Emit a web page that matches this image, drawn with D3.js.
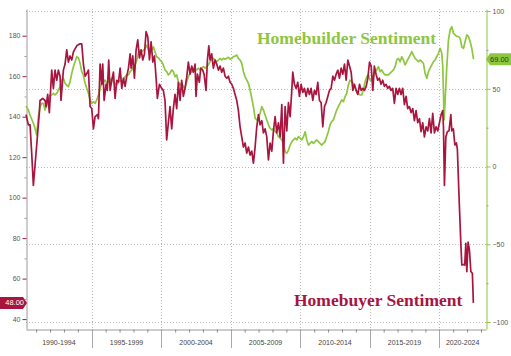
<!DOCTYPE html>
<html><head><meta charset="utf-8">
<script src="https://cdn.jsdelivr.net/npm/d3@7"></script>
<style>html,body{margin:0;padding:0;background:#fff;}svg{display:block;}</style>
</head><body>
<svg id="chart" width="511" height="356"></svg>
<script>
// ---------- data ----------
const BASE_YEAR = 1990;
const periodLabels = ["1990-1994","1995-1999","2000-2004","2005-2009","2010-2014","2015-2019","2020-2024"];
const periodStarts = [1990,1995,2000,2005,2010,2015,2020];
const leftTicks = [40,60,80,100,120,140,160,180];
const leftMinorTicks = [50,70,90,110,130,150,170];
const rightTicks = [-100,-50,0,50,100];
const rightMinorTicks = [-75,-25,25,75];
const buyerTitle = "Homebuyer Sentiment";
const builderTitle = "Homebuilder Sentiment";
const buyerLast = 48;
const builderLast = 69;
// [years since 1990, value] - Homebuyer sentiment (left axis)
const buyerSeries = [
[0.27,141],[0.44,136],[0.56,136],[0.68,122],[0.80,106],[1.04,126],[1.23,142],[1.28,148],[1.47,149],[1.64,148],
[1.71,145],[1.83,151],[1.95,142],[2.12,163],[2.24,154],[2.36,163],[2.48,158],[2.60,163],[2.72,160],[2.79,148],
[2.96,163],[3.08,166],[3.20,173],[3.32,167],[3.44,170],[3.56,168],[3.68,172],[3.92,175],[4.16,176],[4.28,176],
[4.40,166],[4.52,160],[4.69,162],[4.76,163],[4.88,145],[5.00,144],[5.12,134],[5.24,140],[5.41,141],[5.48,139],
[5.60,166],[5.72,156],[5.79,166],[5.89,148],[6.03,156],[6.12,153],[6.22,168],[6.32,153],[6.44,158],[6.56,162],
[6.68,149],[6.80,158],[6.92,157],[7.04,164],[7.16,154],[7.28,159],[7.40,155],[7.52,160],[7.64,164],[7.76,171],
[7.83,164],[7.95,170],[8.07,159],[8.19,173],[8.31,178],[8.43,169],[8.55,173],[8.67,168],[8.79,171],[8.91,182],
[9.03,179.5],[9.15,168],[9.27,177],[9.39,167],[9.51,170],[9.63,159],[9.72,149],[9.87,156],[10.03,154],[10.15,153],
[10.27,148],[10.39,128.5],[10.51,137],[10.63,145],[10.75,134],[10.87,144],[10.99,151],[11.11,144],[11.23,157],[11.35,148],
[11.47,158],[11.59,150],[11.71,154],[11.83,159.5],[11.95,167],[12.07,161],[12.19,165],[12.31,162],[12.43,166],[12.50,150],
[12.60,161],[12.74,157],[12.84,164],[12.98,163],[13.08,161],[13.22,153],[13.32,168],[13.42,175],[13.51,168],[13.63,171],
[13.75,164],[13.87,168],[13.99,166],[14.11,163],[14.23,165],[14.35,162],[14.47,164],[14.59,160],[14.71,159],[14.83,160],
[14.95,157],[15.07,156],[15.19,154],[15.31,151],[15.43,148],[15.55,143],[15.67,135],[15.79,130],[15.91,125],[16.03,127],
[16.15,122],[16.27,125],[16.39,121],[16.51,123],[16.63,117],[16.75,125],[16.87,135],[16.99,141],[17.11,136],[17.23,138],
[17.35,132],[17.47,134],[17.59,130],[17.71,118.6],[17.83,127],[17.95,123],[18.07,133],[18.19,140],[18.31,132],[18.43,137],
[18.55,130],[18.67,146],[18.79,117],[18.91,145],[19.03,133],[19.15,147],[19.27,140],[19.39,153],[19.46,162],[19.58,156],
[19.70,154],[19.82,157],[19.94,150],[20.06,156],[20.18,152],[20.30,154],[20.42,150],[20.54,154],[20.66,151],[20.78,154],
[20.90,148],[21.02,153],[21.14,151],[21.26,157],[21.38,148],[21.50,147],[21.62,135],[21.74,145],[21.86,147],[21.98,150],
[22.10,153],[22.22,154],[22.34,160],[22.46,158],[22.58,161],[22.70,163],[22.82,159],[22.94,164],[23.06,161],[23.18,166],
[23.30,158],[23.42,168],[23.54,165],[23.66,162],[23.78,153],[23.90,156],[24.02,153],[24.14,151],[24.26,156],[24.38,153],
[24.50,154],[24.62,153],[24.74,155],[24.86,159],[24.98,167],[25.10,165],[25.22,153],[25.33,165],[25.45,161],[25.57,158],
[25.69,159],[25.81,156],[25.93,158],[26.05,155],[26.17,156],[26.29,154],[26.41,155],[26.53,153],[26.65,154],[26.77,146.6],
[26.89,154],[27.01,151],[27.13,154],[27.25,151],[27.37,154],[27.49,146],[27.61,150],[27.73,144],[27.85,145],[27.97,142],
[28.09,144],[28.21,138],[28.33,143],[28.45,137],[28.57,139],[28.69,132.6],[28.81,137],[28.93,130],[29.05,135],[29.17,133],
[29.29,139],[29.41,132],[29.53,141.7],[29.65,132],[29.77,135],[29.89,133],[30.01,137],[30.13,141],[30.25,143],[30.30,135],
[30.37,106],[30.47,130],[30.58,132.6],[30.70,133],[30.83,141],[30.90,133],[31.01,134],[31.12,126],[31.23,127],[31.30,124],
[31.42,100.5],[31.55,77.4],[31.62,66.7],[31.74,67],[31.83,66.7],[31.91,77.4],[31.98,63.4],[32.07,78],[32.17,74],[32.27,63.5],
[32.38,62.6],[32.45,48]
];
// [years since 1990, value] - Homebuilder sentiment (right axis)
const builderSeries = [
[0.27,38.9],[0.44,36.3],[0.56,33.1],[0.80,27.8],[0.92,24.6],[1.04,20.3],[1.16,32],[1.28,38.3],[1.40,40.6],[1.52,40.6],
[1.64,36.3],[1.76,39.4],[1.88,42.8],[2.00,46],[2.12,46],[2.24,47.1],[2.36,46],[2.48,47.1],[2.60,49.2],[2.72,51.3],
[2.84,55.6],[2.96,56.7],[3.08,53.5],[3.20,52.4],[3.32,51.3],[3.44,54.5],[3.56,59.9],[3.68,64.2],[3.80,67.4],[3.92,70.6],
[4.04,70],[4.16,66.4],[4.28,61],[4.40,58.6],[4.52,53.5],[4.64,50.3],[4.76,47.1],[4.88,42.8],[5.00,40.6],[5.12,41.7],
[5.24,40.6],[5.36,42.8],[5.48,46],[5.60,50.3],[5.72,53.5],[5.84,54.5],[5.96,55.6],[6.08,53.5],[6.20,54.5],[6.32,55.6],
[6.44,56.7],[6.56,54.5],[6.68,53.5],[6.80,52.4],[6.92,54.5],[7.04,55.6],[7.16,54.5],[7.28,55.6],[7.40,57.8],[7.52,58.9],
[7.64,58.9],[7.76,61],[7.88,62.1],[8.00,64.2],[8.12,65.3],[8.24,68.5],[8.36,72.8],[8.48,74.9],[8.60,73.8],[8.72,74.9],
[8.84,75.9],[8.96,78.1],[9.08,74.9],[9.19,72.8],[9.31,74.9],[9.43,77],[9.55,73.8],[9.67,70.6],[9.79,70],[9.91,68.5],
[10.03,67.4],[10.15,65.3],[10.27,62.1],[10.39,61],[10.51,58.9],[10.63,60],[10.75,62.1],[10.87,61],[10.99,57.8],[11.11,58.9],
[11.23,54.5],[11.35,52.4],[11.47,53.5],[11.59,51.3],[11.71,50.3],[11.83,54.5],[11.95,57.8],[12.07,60],[12.19,61],[12.31,62.1],
[12.43,63.2],[12.55,62.1],[12.67,63.2],[12.79,62.1],[12.91,63.2],[13.03,64.2],[13.15,63.2],[13.27,64.2],[13.39,65.3],[13.51,67.4],
[13.63,68.5],[13.75,69.6],[13.87,68.5],[13.99,67.4],[14.11,68.5],[14.23,69.6],[14.35,68.5],[14.47,69.6],[14.59,69],[14.71,69.6],
[14.83,70.2],[14.95,69],[15.07,69.6],[15.19,70.6],[15.31,71],[15.43,71.7],[15.55,69.6],[15.67,68.5],[15.79,66.4],[15.91,61],
[16.03,57.8],[16.15,55.6],[16.27,53.5],[16.39,49.2],[16.63,38.5],[16.75,31.1],[16.87,30],[16.99,31.1],[17.11,34.2],[17.23,38.5],
[17.35,36.3],[17.47,33.1],[17.59,30],[17.71,26.8],[17.83,24.6],[17.95,23.5],[18.07,24.6],[18.19,22.5],[18.31,21.4],[18.43,19.2],
[18.55,18.2],[18.67,17.1],[18.79,14.9],[18.91,9.5],[19.03,8.5],[19.15,10.6],[19.27,13.8],[19.39,16],[19.51,17.1],[19.63,18.2],
[19.75,17.1],[19.87,19.2],[19.99,18.2],[20.11,17.1],[20.23,19.2],[20.35,22.4],[20.47,17.1],[20.59,13.8],[20.71,14.9],[20.83,16],
[20.95,14.9],[21.06,16],[21.18,17.1],[21.30,16],[21.42,14.9],[21.54,13.8],[21.66,14.9],[21.78,16],[21.90,19.2],[22.02,22.5],
[22.14,26.7],[22.26,28.9],[22.38,30],[22.50,33.1],[22.62,36.3],[22.74,38.5],[22.86,40.6],[22.98,42.8],[23.10,41.7],[23.22,44.9],
[23.34,47.1],[23.46,52.4],[23.58,55.6],[23.70,54.5],[23.82,53.5],[23.94,50.3],[24.06,48.2],[24.18,47.1],[24.30,46],[24.42,46],
[24.54,49.2],[24.66,54.5],[24.78,57.8],[24.90,58.9],[25.02,55.6],[25.14,55.6],[25.26,57.8],[25.38,61],[25.50,62.1],[25.62,64.2],
[25.74,61],[25.86,62.1],[25.98,60],[26.10,58.9],[26.22,58.9],[26.34,58.9],[26.46,60],[26.58,61],[26.70,62.1],[26.82,64.2],
[26.94,68.5],[27.06,69.6],[27.18,67.4],[27.30,70.6],[27.42,68.5],[27.54,65.3],[27.66,67.4],[27.78,69.6],[27.90,71.7],[28.02,73.8],
[28.14,71.7],[28.26,69.6],[28.38,68.5],[28.50,67.4],[28.62,68.5],[28.74,67.4],[28.86,66.4],[28.98,59.9],[29.10,56.7],[29.22,61],
[29.34,63.2],[29.46,65.3],[29.58,67.4],[29.70,68.5],[29.82,70.6],[29.94,72.8],[30.06,76],[30.18,72.8],[30.25,64.2],[30.35,30],
[30.54,64.2],[30.66,81.4],[30.78,87.8],[30.90,89.9],[31.02,85.7],[31.14,84.6],[31.26,83.6],[31.38,83.6],[31.50,82.5],[31.62,77],
[31.74,76],[31.86,80.4],[31.98,84.6],[32.10,83.6],[32.22,80.4],[32.34,76],[32.46,69]
];

// ---------- drawing ----------
const L = 26, R = 486, T = 9, B = 329;
const RED = "#a8153f", GREEN = "#8dc63f", GRID = "#b9b9b9", AXIS = "#9a9a9a", TXT = "#555";
const svg = d3.select("#chart");

const x = d3.scaleLinear().domain([1990.27, 2023.36]).range([L, R]);
const yL = d3.scaleLinear().domain([35.1, 193.2]).range([B, T]);
const yR = d3.scaleLinear().domain([-104.5, 101.3]).range([B, T]);

// horizontal gridlines (on right-axis ticks)
svg.append("g").selectAll("line").data(rightTicks).join("line")
  .attr("x1", L).attr("x2", R)
  .attr("y1", d => Math.round(yR(d)) + 0.5).attr("y2", d => Math.round(yR(d)) + 0.5)
  .attr("stroke", GRID).attr("stroke-width", 1).attr("stroke-dasharray", "1,2");

// vertical gridlines at period boundaries
const bounds = periodStarts.filter(d => x(d) > L && x(d) < R);
svg.append("g").selectAll("line").data(bounds).join("line")
  .attr("x1", d => Math.round(x(d)) + 0.5).attr("x2", d => Math.round(x(d)) + 0.5)
  .attr("y1", T).attr("y2", B)
  .attr("stroke", GRID).attr("stroke-width", 1).attr("stroke-dasharray", "1,2");
// separators below axis
svg.append("g").selectAll("line").data(bounds).join("line")
  .attr("x1", d => Math.round(x(d)) + 0.5).attr("x2", d => Math.round(x(d)) + 0.5)
  .attr("y1", B).attr("y2", 348)
  .attr("stroke", "#aaa").attr("stroke-width", 1);

// bottom axis (yearly minor ticks)
const yearTicks = d3.range(1991, 2024).filter(d => d % 5 !== 0);
const xAxis = svg.append("g").attr("transform", `translate(0,${B + 0.5})`)
  .call(d3.axisBottom(x).tickValues(yearTicks).tickSize(3).tickSizeOuter(0).tickFormat(""));
xAxis.select(".domain").attr("stroke", AXIS);
xAxis.selectAll(".tick line").attr("stroke", "#888");

// period labels centered in visible part
svg.append("g").selectAll("text").data(periodStarts).join("text")
  .attr("x", (d) => (Math.max(x(d), L) + Math.min(x(d + 5), R)) / 2)
  .attr("y", 345)
  .attr("text-anchor", "middle")
  .attr("font-family", "Liberation Sans, Arial, sans-serif")
  .attr("font-size", 7)
  .attr("fill", "#444")
  .text((d, i) => periodLabels[i]);

// left axis
const la = svg.append("g").attr("transform", `translate(${L + 0.5},0)`)
  .call(d3.axisLeft(yL).tickValues(leftTicks).tickSize(4).tickSizeOuter(0).tickPadding(2).tickFormat(d3.format("d")));
la.select(".domain").attr("stroke", AXIS);
la.selectAll(".tick line").attr("stroke", RED);
la.selectAll(".tick text").attr("font-family", "Liberation Sans, Arial, sans-serif").attr("font-size", 7).attr("fill", TXT);
const lm = svg.append("g").attr("transform", `translate(${L + 0.5},0)`)
  .call(d3.axisLeft(yL).tickValues(leftMinorTicks).tickSize(2).tickFormat(""));
lm.select(".domain").remove();
lm.selectAll(".tick line").attr("stroke", "#999");

// right axis
const ra = svg.append("g").attr("transform", `translate(${R + 0.5},0)`)
  .call(d3.axisRight(yR).tickValues(rightTicks).tickSize(4).tickSizeOuter(0).tickPadding(2).tickFormat(d3.format("d")));
ra.select(".domain").attr("stroke", GREEN);
ra.selectAll(".tick line").attr("stroke", GREEN);
ra.selectAll(".tick text").attr("font-family", "Liberation Sans, Arial, sans-serif").attr("font-size", 7).attr("fill", TXT);
const rm = svg.append("g").attr("transform", `translate(${R + 0.5},0)`)
  .call(d3.axisRight(yR).tickValues(rightMinorTicks).tickSize(2).tickFormat(""));
rm.select(".domain").remove();
rm.selectAll(".tick line").attr("stroke", "#999");

// lines
const builderLine = d3.line().x(d => x(BASE_YEAR + d[0])).y(d => yR(d[1]));
const buyerLine = d3.line().x(d => x(BASE_YEAR + d[0])).y(d => yL(d[1]));
svg.append("path").datum(builderSeries).attr("d", builderLine)
  .attr("fill", "none").attr("stroke", GREEN).attr("stroke-width", 1.7).attr("stroke-linejoin", "round");
svg.append("path").datum(buyerSeries).attr("d", buyerLine)
  .attr("fill", "none").attr("stroke", RED).attr("stroke-width", 1.7).attr("stroke-linejoin", "round");

// titles
svg.append("text").attr("x", 257).attr("y", 43.5)
  .attr("font-family", "Liberation Serif, Times New Roman, serif").attr("font-weight", "bold")
  .attr("font-size", 17.5).attr("fill", GREEN).text(builderTitle);
svg.append("text").attr("x", 294).attr("y", 306)
  .attr("font-family", "Liberation Serif, Times New Roman, serif").attr("font-weight", "bold")
  .attr("font-size", 17.5).attr("fill", RED).text(buyerTitle);

// last-value tags
const yb = yL(buyerLast);
svg.append("path")
  .attr("d", d3.line()([[0, yb - 6], [23, yb - 6], [27, yb], [23, yb + 6], [0, yb + 6]]) + "Z")
  .attr("fill", RED);
svg.append("text").attr("x", 24).attr("y", yb + 2.6).attr("text-anchor", "end")
  .attr("font-family", "Liberation Sans, Arial, sans-serif").attr("font-size", 7.5)
  .attr("fill", "#fff").text(d3.format(".2f")(buyerLast));
const yg = yR(builderLast);
svg.append("path")
  .attr("d", d3.line()([[486, yg], [490, yg - 6], [511, yg - 6], [511, yg + 6], [490, yg + 6]]) + "Z")
  .attr("fill", GREEN);
svg.append("text").attr("x", 490).attr("y", yg + 2.6)
  .attr("font-family", "Liberation Sans, Arial, sans-serif").attr("font-size", 7.5)
  .attr("fill", "#2f3a1a").text(d3.format(".2f")(builderLast));
</script>
</body></html>
